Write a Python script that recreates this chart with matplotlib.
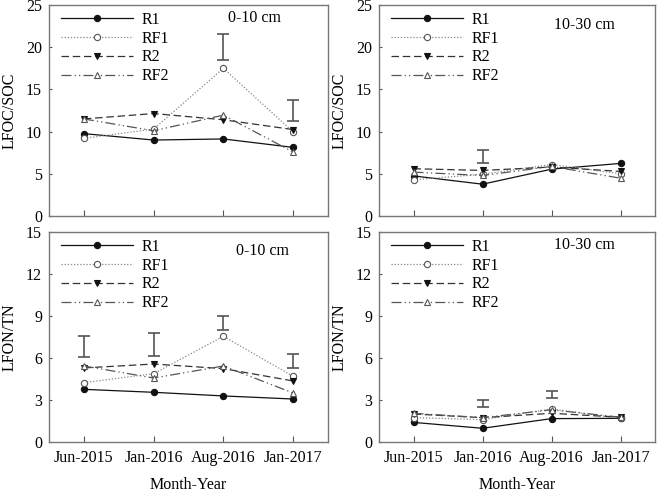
import matplotlib
matplotlib.use("Agg")
import matplotlib.pyplot as plt

plt.rcParams['font.family'] = ['Liberation Serif', 'DejaVu Serif']

dates = ["Jun-2015", "Jan-2016", "Aug-2016", "Jan-2017"]
series = ["R1", "RF1", "R2", "RF2"]

# LFOC/SOC, 0-10 cm
soc_0_10 = {
    "R1":  [9.76, 9.0, 9.13, 8.13],
    "RF1": [9.2, 10.3, 17.5, 9.96],
    "R2":  [11.5, 12.14, 11.4, 10.24],
    "RF2": [11.5, 10.1, 11.95, 7.58],
}
soc_0_10_err_x = [2, 3]
soc_0_10_err_lo = [18.45, 11.2]
soc_0_10_err_hi = [21.6, 13.8]

# LFOC/SOC, 10-30 cm
soc_10_30 = {
    "R1":  [4.75, 3.77, 5.55, 6.23],
    "RF1": [4.29, 4.95, 6.1, 5.0],
    "R2":  [5.6, 5.4, 5.8, 5.28],
    "RF2": [5.2, 4.8, 5.87, 4.48],
}
soc_10_30_err_x = [1]
soc_10_30_err_lo = [6.27]
soc_10_30_err_hi = [7.78]

# LFON/TN, 0-10 cm
tn_0_10 = {
    "R1":  [3.76, 3.55, 3.29, 3.07],
    "RF1": [4.24, 4.88, 7.55, 4.69],
    "R2":  [5.29, 5.57, 5.24, 4.36],
    "RF2": [5.43, 4.57, 5.43, 3.5],
}
tn_0_10_err_x = [0, 1, 2, 3]
tn_0_10_err_lo = [6.05, 6.17, 8.0, 5.31]
tn_0_10_err_hi = [7.55, 7.79, 8.98, 6.31]

# LFON/TN, 10-30 cm
tn_10_30 = {
    "R1":  [1.40, 0.98, 1.67, 1.69],
    "RF1": [1.74, 1.6, 2.36, 1.69],
    "R2":  [2.0, 1.74, 2.05, 1.77],
    "RF2": [2.05, 1.74, 2.3, 1.77],
}
tn_10_30_err_x = [1, 2]
tn_10_30_err_lo = [2.52, 3.14]
tn_10_30_err_hi = [3.02, 3.67]

styles = {
    "R1":  dict(color="#111111", linestyle="-", marker="o", mfc="#111111", mec="#111111"),
    "RF1": dict(color="#888888", linestyle=(0, (1, 1.5)), marker="o", mfc="white", mec="#555555"),
    "R2":  dict(color="#333333", linestyle=(0, (6, 3)), marker="v", mfc="#111111", mec="#111111"),
    "RF2": dict(color="#555555", linestyle=(0, (8, 2.5, 1, 2.5, 1, 2.5)), marker="^", mfc="white", mec="#555555"),
}

fig = plt.figure(figsize=(6.6, 4.93), dpi=100)
L1, R1x = 49/660, 328/660
L2, R2x = 379/660, 655/660
T1, B1 = 1-5/493, 1-216/493
T2, B2 = 1-232/493, 1-442/493

panels = [
    ([L1, B1, R1x-L1, T1-B1], soc_0_10, soc_0_10_err_x, soc_0_10_err_lo, soc_0_10_err_hi, "LFOC/SOC", "0-10 cm", (0.735, 0.938), (0, 25), [0, 5, 10, 15, 20, 25], False),
    ([L2, B1, R2x-L2, T1-B1], soc_10_30, soc_10_30_err_x, soc_10_30_err_lo, soc_10_30_err_hi, "LFOC/SOC", "10-30 cm", (0.746, 0.905), (0, 25), [0, 5, 10, 15, 20, 25], False),
    ([L1, B2, R1x-L1, T2-B2], tn_0_10, tn_0_10_err_x, tn_0_10_err_lo, tn_0_10_err_hi, "LFON/TN", "0-10 cm", (0.767, 0.91), (0, 15), [0, 3, 6, 9, 12, 15], True),
    ([L2, B2, R2x-L2, T2-B2], tn_10_30, tn_10_30_err_x, tn_10_30_err_lo, tn_10_30_err_hi, "LFON/TN", "10-30 cm", (0.746, 0.938), (0, 15), [0, 3, 6, 9, 12, 15], True),
]

x = list(range(len(dates)))
for rect, data, ex, elo, ehi, ylab, depth, dpos, ylim, yticks, bottom in panels:
    ax = fig.add_axes(rect)
    for s in series:
        st = styles[s]
        ax.plot(x, data[s], color=st["color"], linestyle=st["linestyle"], linewidth=0.9,
                marker=st["marker"], markersize=4.5, markerfacecolor=st["mfc"],
                markeredgecolor=st["mec"], markeredgewidth=0.8, label=s)
    for xi, lo, hi in zip(ex, elo, ehi):
        mid = (lo + hi) / 2
        ax.errorbar([xi], [mid], yerr=[[mid - lo]], fmt="none", ecolor="#555555",
                    elinewidth=1.2, capsize=4, capthick=1.2)
    ax.set_xlim(-0.5, 3.5)
    ax.set_ylim(*ylim)
    ax.set_yticks(yticks)
    ax.set_xticks(x)
    if bottom:
        ax.set_xticklabels(dates, fontsize=11.5)
        ax.set_xlabel("Month-Year", fontsize=11.5, labelpad=8)
    else:
        ax.set_xticklabels([])
    ax.tick_params(axis="x", direction="in", length=4, color="#555555", pad=6)
    ax.tick_params(axis="y", direction="in", length=2, color="#555555", labelsize=11.5, pad=5)
    for sp in ax.spines.values():
        sp.set_color("#777777")
        sp.set_linewidth(1.0)
    ax.set_ylabel(ylab, fontsize=11.5, labelpad=6)
    ax.text(dpos[0], dpos[1], depth, transform=ax.transAxes, fontsize=11.5,
            ha="center", va="center")
    ax.legend(loc="upper left", frameon=False, fontsize=11.5, handlelength=4.5,
              handletextpad=0.5, labelspacing=0.18, borderaxespad=0.2,
              bbox_to_anchor=(0.01, 1.014))

fig.savefig("out.png", dpi=100)
